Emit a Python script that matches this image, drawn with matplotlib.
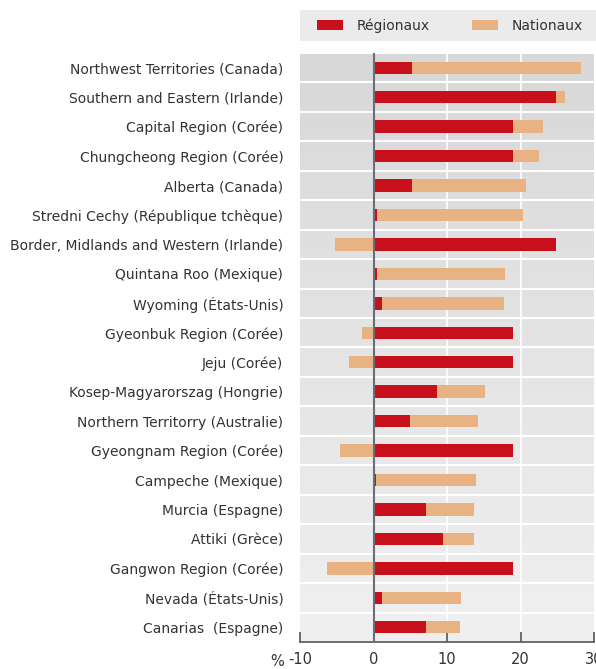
import numpy as np
import matplotlib
matplotlib.use('Agg')
import matplotlib.pyplot as plt
from matplotlib.colors import LinearSegmentedColormap
from matplotlib.patches import Rectangle

plt.rcParams['font.family'] = ['DejaVu Sans']

regions = ['Northwest Territories (Canada)', 'Southern and Eastern (Irlande)',
           'Capital Region (Corée)', 'Chungcheong Region (Corée)', 'Alberta (Canada)',
           'Stredni Cechy (République tchèque)', 'Border, Midlands and Western (Irlande)',
           'Quintana Roo (Mexique)', 'Wyoming (États-Unis)', 'Gyeonbuk Region (Corée)',
           'Jeju (Corée)', 'Kosep-Magyarorszag (Hongrie)', 'Northern Territorry (Australie)',
           'Gyeongnam Region (Corée)', 'Campeche (Mexique)', 'Murcia (Espagne)',
           'Attiki (Grèce)', 'Gangwon Region (Corée)', 'Nevada (États-Unis)',
           'Canarias  (Espagne)']
regionaux = [5.3, 24.8, 19.0, 19.0, 5.3, 0.5, 24.8, 0.5, 1.2, 19.0,
             19.0, 8.7, 4.9, 19.0, 0.4, 7.1, 9.4, 19.0, 1.2, 7.1]
nationaux = [22.9, 1.2, 4.1, 3.5, 15.4, 19.9, -5.3, 17.4, 16.5, -1.6,
             -3.3, 6.5, 9.3, -4.6, 13.5, 6.6, 4.3, -6.3, 10.7, 4.7]

red = '#c8101c'
tan = '#e9b283'

fig = plt.figure(figsize=(5.96, 6.69), dpi=100)
ax = fig.add_axes([300/596, 1 - 642/669, 294/596, 589/669])

n = len(regions)
y = np.arange(n)
reg = np.array(regionaux)
nat = np.array(nationaux)

# background gradient + white separators
cmap = LinearSegmentedColormap.from_list('bg', ['#d8d8d8', '#f0f0f0'])
grad = np.linspace(0, 1, 200).reshape(-1, 1)
ax.imshow(grad, extent=[-10, 30, n - 0.5, -0.5], aspect='auto', cmap=cmap,
          zorder=0, origin='upper')
for b in np.arange(n + 1) - 0.5:
    ax.axhline(b, color='white', lw=1.5, zorder=1)
for gx in [10, 20]:
    ax.axvline(gx, color='white', lw=1.2, zorder=1)

left_nat = np.where(nat > 0, reg, 0)
ax.barh(y, reg, height=0.42, color=red, label='Régionaux', zorder=3)
ax.barh(y, nat, left=left_nat, height=0.42, color=tan, label='Nationaux', zorder=3)
ax.axvline(0, color='#6a6e78', lw=1.5, zorder=4)

ax.set_xlim(-10, 30)
ax.set_ylim(n - 0.5, -0.5)
ax.set_yticks(y)
ax.set_yticklabels(regions, fontsize=10, color='#333333')
ax.tick_params(axis='y', length=0, pad=12)
ax.set_xticks([-10, 0, 10, 20, 30])
ax.set_xticklabels(['-10', '0', '10', '20', '30'], fontsize=10.5, color='#333333')
ax.tick_params(axis='x', direction='in', length=7, width=1.2, color='#555555', pad=7)
for s in ['top', 'right', 'left']:
    ax.spines[s].set_visible(False)
ax.spines['bottom'].set_color('#555555')
ax.spines['bottom'].set_linewidth(1.2)

fig.text(284/596, 1 - 661/669, '%', ha='right', va='center', fontsize=10.5,
         color='#333333')

# legend band
fig.patches.append(Rectangle((300/596, 1 - 41/669), 296/596, 31/669,
                             transform=fig.transFigure, facecolor='#ebebeb',
                             edgecolor='none', zorder=0))
leg = fig.legend(loc='center', bbox_to_anchor=(450/596, 1 - 25.5/669),
                 ncol=2, fontsize=10, frameon=False, handlelength=1.9,
                 handleheight=0.8, handletextpad=1.0, columnspacing=3.0,
                 labelcolor='#333333', borderaxespad=0)

fig.savefig('out.png', dpi=100)
